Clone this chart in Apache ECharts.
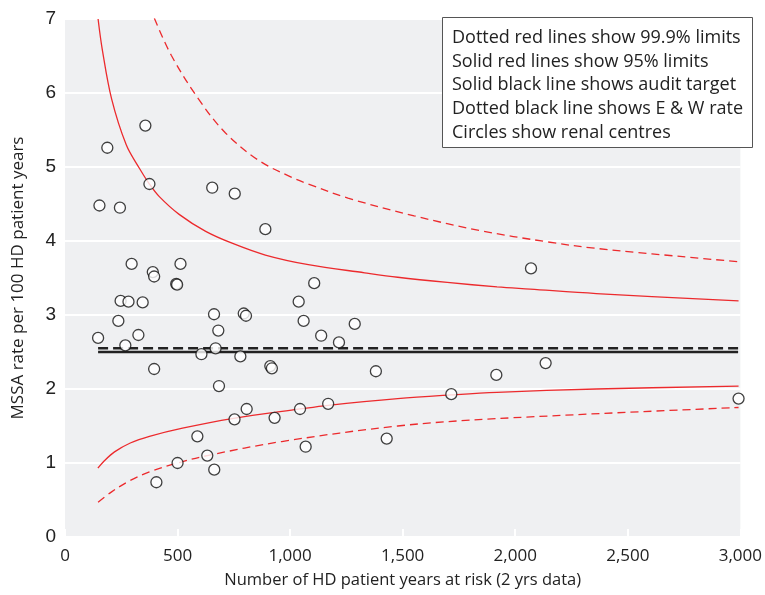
<!DOCTYPE html>
<html>
<head>
<meta charset="utf-8">
<script src="https://cdn.jsdelivr.net/npm/echarts@6/dist/echarts.min.js"></script>
<style>
  html, body { margin: 0; padding: 0; background: #fff; }
  #chart { width: 765px; height: 595px; }
</style>
</head>
<body>
<div id="chart"></div>
<script>
// renal centres: [patient years at risk, MSSA rate]
const centres = [
  [357, 5.56], [188, 5.26], [375, 4.77], [654, 4.72], [754, 4.64],
  [153, 4.48], [244, 4.45], [890, 4.16], [296, 3.69], [513, 3.69],
  [390, 3.58], [396, 3.52], [494, 3.42], [498, 3.41], [247, 3.19],
  [282, 3.18], [345, 3.17], [1038, 3.18], [662, 3.01], [794, 3.02],
  [804, 2.99], [237, 2.92], [1060, 2.92], [681, 2.79], [147, 2.69],
  [326, 2.73], [268, 2.59], [669, 2.55], [1107, 3.43], [1287, 2.88],
  [1138, 2.72], [1217, 2.63], [606, 2.47], [779, 2.44], [396, 2.27],
  [912, 2.31], [919, 2.28], [1381, 2.24], [684, 2.04], [807, 1.73],
  [753, 1.59], [931, 1.61], [1044, 1.73], [1169, 1.80], [588, 1.36],
  [632, 1.10], [500, 1.00], [663, 0.91], [1069, 1.22], [1429, 1.33],
  [406, 0.74], [2070, 3.63], [1916, 2.19], [2135, 2.35], [1716, 1.93],
  [2992, 1.87]
]

// control limits
const upper95 = [
  [147, 7.0], [166, 6.58], [207, 5.92], [272, 5.30], [331, 4.98],
  [375, 4.77], [419, 4.60], [507, 4.36], [625, 4.13], [742, 3.97],
  [890, 3.81], [1081, 3.68], [1331, 3.57], [1478, 3.51], [1698, 3.44],
  [1919, 3.38], [2066, 3.35], [2360, 3.29], [2992, 3.19]
]
const upper999 = [
  [397, 7.01], [472, 6.51], [595, 5.91], [713, 5.46], [860, 5.09],
  [1007, 4.86], [1081, 4.77], [1257, 4.58], [1551, 4.34], [1845, 4.14],
  [2139, 3.99], [2360, 3.90], [2992, 3.72]
]
const lower95 = [
  [146, 0.93], [175, 1.03], [220, 1.15], [290, 1.27], [375, 1.36],
  [522, 1.47], [742, 1.60], [1044, 1.73], [1169, 1.78], [1478, 1.87],
  [1716, 1.92], [1919, 1.955], [2360, 2.0], [2992, 2.04]
]
const lower999 = [
  [147, 0.47], [207, 0.61], [287, 0.76], [375, 0.88], [500, 1.00],
  [632, 1.10], [963, 1.29], [1478, 1.50], [1919, 1.60], [2992, 1.75]
]

const auditTarget = 2.5
const ewRate = 2.55
const lineRange = [147, 2990]

const legendLines = [
  'Dotted red lines show 99.9% limits',
  'Solid red lines show 95% limits',
  'Solid black line shows audit target',
  'Dotted black line shows E & W rate',
  'Circles show renal centres'
]

const red = '#ec2a2d'
const sans = "'Open Sans', sans-serif"
const arial = "'Liberation Sans', Arial, sans-serif"

function limitLine(data, dashed) {
  return {
    type: 'line',
    data: data,
    smooth: 0.35,
    symbol: 'none',
    silent: true,
    lineStyle: { color: red, width: 1.3, type: dashed ? [8, 5] : 'solid' },
    z: 2
  }
}

const chart = echarts.init(document.getElementById('chart'), null, { renderer: 'canvas' })

chart.setOption({
  animation: false,
  title: {
    text: legendLines.join('\n'),
    left: 442,
    top: 17,
    padding: [9, 10, 3, 10],
    backgroundColor: '#fff',
    borderColor: '#555',
    borderWidth: 1,
    textStyle: {
      fontFamily: sans,
      fontSize: 18,
      fontWeight: 'normal',
      color: '#222',
      lineHeight: 23.7
    },
    z: 10
  },
  grid: {
    left: 65,
    right: 20,
    top: 19,
    bottom: 58,
    show: true,
    backgroundColor: '#eff0f2',
    borderWidth: 0
  },
  xAxis: {
    type: 'value',
    min: 0,
    max: 3000,
    interval: 500,
    name: 'Number of HD patient years at risk (2 yrs data)',
    nameLocation: 'middle',
    nameGap: 35,
    nameTextStyle: { fontFamily: sans, fontSize: 16.5, color: '#222' },
    axisLine: { show: false },
    axisTick: { show: true, inside: true, length: 8, lineStyle: { color: '#fff', width: 2 } },
    splitLine: { show: false },
    axisLabel: {
      margin: 11,
      fontFamily: sans,
      fontSize: 17,
      color: '#222',
      formatter: v => v.toLocaleString('en-US')
    }
  },
  yAxis: {
    type: 'value',
    min: 0,
    max: 7,
    interval: 1,
    name: 'MSSA rate per 100 HD patient years',
    nameLocation: 'middle',
    nameGap: 38,
    nameTextStyle: { fontFamily: sans, fontSize: 17, color: '#222' },
    axisLine: { show: false },
    axisTick: { show: false },
    splitLine: { show: true, lineStyle: { color: '#fff', width: 2 } },
    axisLabel: {
      margin: 9,
      fontFamily: arial,
      fontSize: 19,
      color: '#222'
    }
  },
  series: [
    limitLine(upper999, true),
    limitLine(upper95, false),
    limitLine(lower95, false),
    limitLine(lower999, true),
    {
      type: 'line',
      data: lineRange.map(x => [x, ewRate]),
      symbol: 'none',
      silent: true,
      lineStyle: { color: '#222', width: 2.5, type: [10, 5] },
      z: 3
    },
    {
      type: 'line',
      data: lineRange.map(x => [x, auditTarget]),
      symbol: 'none',
      silent: true,
      lineStyle: { color: '#222', width: 2.5 },
      z: 3
    },
    {
      type: 'scatter',
      data: centres,
      symbol: 'circle',
      symbolSize: 11,
      itemStyle: { color: '#fff', borderColor: '#111', borderWidth: 1.3 },
      z: 5
    }
  ]
})
</script>
</body>
</html>
